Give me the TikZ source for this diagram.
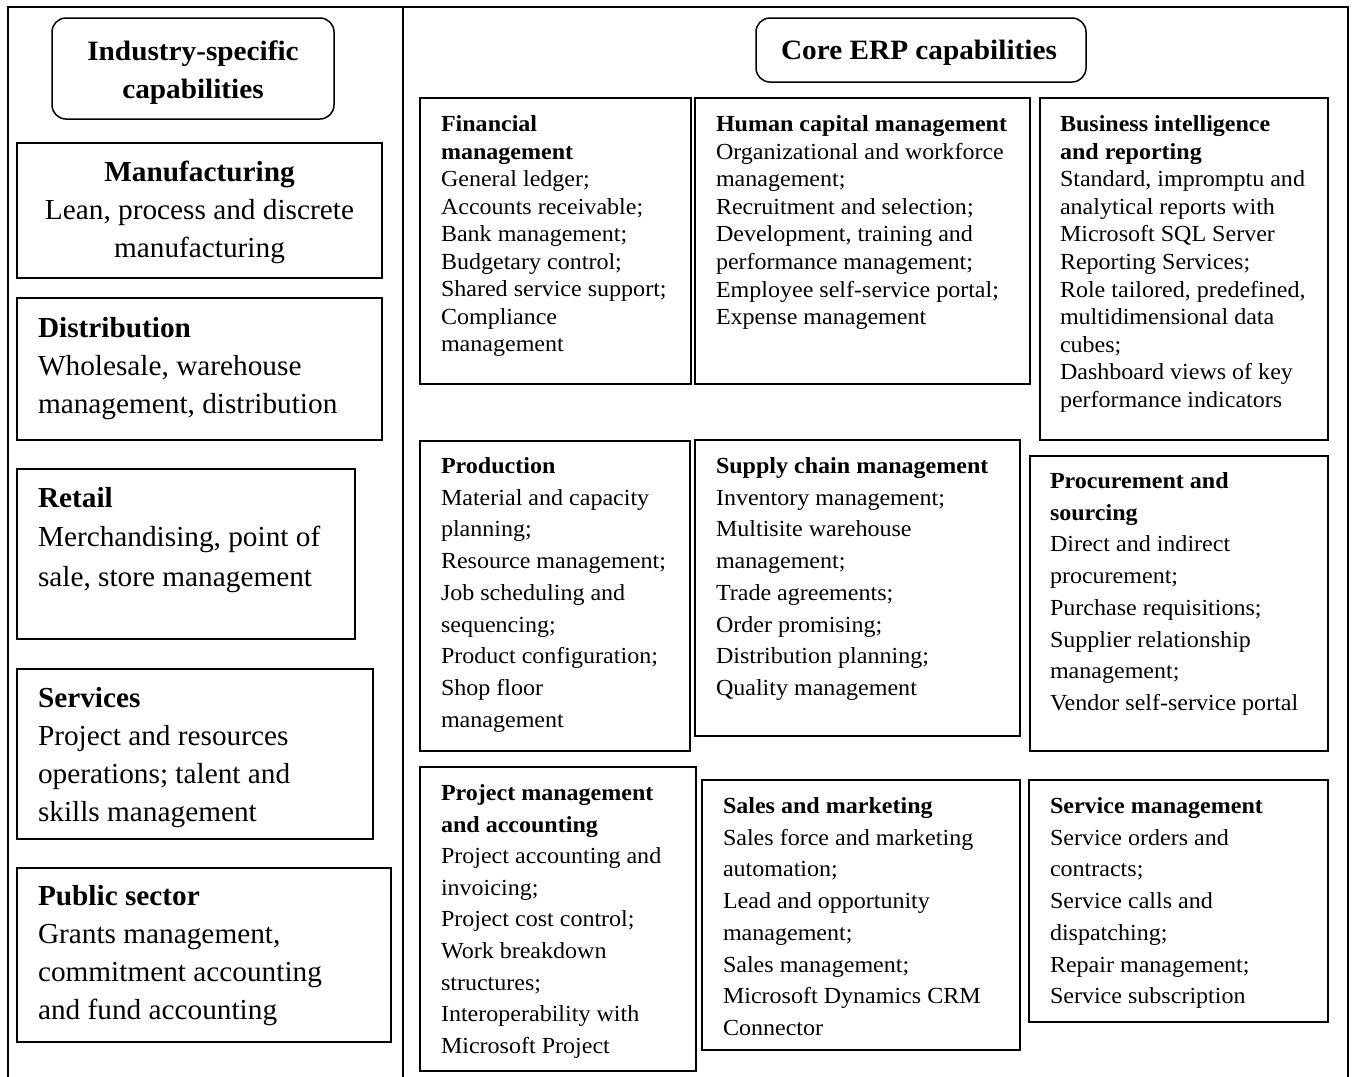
\documentclass[tikz,border=0pt]{standalone}
\usepackage{fontspec}
\setmainfont{Liberation Serif}[FakeStretch=1.01]
\newfontfamily\widefont{Liberation Serif}[FakeStretch=1.045]

% frame of a capability box: name, x1, y1, x2, y2
\newcommand\capframe[6][capbox]{%
  \pgfmathsetmacro\boxw{#5-#3}%
  \pgfmathsetmacro\boxh{#6-#4}%
  \node[#1, minimum width=\boxw pt, minimum height=\boxh pt]
    (#2) at ({(#3+#5)/2},{(#4+#6)/2}) {};}

% block of text lines: width, size, leading, lines
\newcommand\textlines[4]{%
  \parbox[t]{#1}{\fontsize{#2}{#3}\selectfont #4}}
% same, in the slightly wider face used in the core panel and titles
\newcommand\widelines[4]{%
  \parbox[t]{#1}{\widefont\fontsize{#2}{#3}\selectfont #4}}

\begin{document}
\begin{tikzpicture}[x=1pt, y=-1pt,
  frame/.style={line width=1.7pt},
  capbox/.style={draw, rectangle, line width=1.5pt, inner sep=0pt, outer sep=0pt},
  titlebox/.style={capbox, rounded corners=14pt},
  body/.style={inner sep=0pt, outer sep=0pt, anchor=base west},
  cbody/.style={inner sep=0pt, outer sep=0pt, anchor=base}]

\useasboundingbox[fill=white] (0,0) rectangle (1353,1077);

% outer frame and divider between the two panels
\coordinate (fbl) at (8,1077);
\coordinate (ftl) at (8,7);
\coordinate (ftr) at (1348,7);
\coordinate (fbr) at (1348,1077);
\coordinate (dtop) at (403,7);
\coordinate (dbot) at (403,1077);
\draw[frame] (fbl) -- (ftl) -- (ftr) -- (fbr);
\draw[frame] (dtop) -- (dbot);

% ---------- industry-specific panel ----------
\capframe[titlebox]{indtitle}{52}{18}{334}{119}
\node[cbody] (indtitle-t) at (193,60)
  {\widelines{280pt}{28}{38}{\centering\bfseries Industry-specific\\capabilities}};

\capframe{manuf}{17}{143}{382}{278}
\node[cbody] (manuf-t) at (199.5,181)
  {\textlines{360pt}{29}{38}{\centering\textbf{Manufacturing}\\Lean, process and discrete\\manufacturing}};

\capframe{distr}{17}{298}{382}{440}
\node[body] (distr-t) at (38,337)
  {\textlines{340pt}{29}{38}{\textbf{Distribution}\\Wholesale, warehouse\\management, distribution}};

\capframe{retail}{17}{469}{355}{639}
\node[body] (retail-t) at (38,507)
  {\textlines{310pt}{29}{39.5}{\textbf{Retail}\\Merchandising, point of\\sale, store management}};

\capframe{serv}{17}{669}{373}{839}
\node[body] (serv-t) at (38,707)
  {\textlines{330pt}{29}{38}{\textbf{Services}\\Project and resources\\operations; talent and\\skills management}};

\capframe{public}{17}{868}{391}{1042}
\node[body] (public-t) at (38,905)
  {\textlines{350pt}{29}{38.3}{\textbf{Public sector}\\Grants management,\\commitment accounting\\and fund accounting}};

% ---------- core ERP panel ----------
\capframe[titlebox]{coretitle}{756}{18}{1086}{82}
\node[cbody] (coretitle-t) at (919,59)
  {\widelines{320pt}{28}{38}{\centering\bfseries Core ERP capabilities}};

% first row
\capframe{fin}{420}{98}{691}{384}
\node[body] (fin-t) at (441,131.5)
  {\widelines{245pt}{23}{27.5}{\textbf{Financial}\\\textbf{management}\\General ledger;\\Accounts receivable;\\Bank management;\\Budgetary control;\\Shared service support;\\Compliance\\management}};

\capframe{hcm}{695}{98}{1030}{384}
\node[body] (hcm-t) at (716,131.5)
  {\widelines{320pt}{23}{27.6}{\textbf{Human capital management}\\Organizational and workforce\\management;\\Recruitment and selection;\\Development, training and\\performance management;\\Employee self-service portal;\\Expense management}};

\capframe{bi}{1040}{98}{1328}{440}
\node[body] (bi-t) at (1060,131.5)
  {\widelines{265pt}{23}{27.6}{\textbf{Business intelligence}\\\textbf{and reporting}\\Standard, impromptu and\\analytical reports with\\Microsoft SQL Server\\Reporting Services;\\Role tailored, predefined,\\multidimensional data\\cubes;\\Dashboard views of key\\performance indicators}};

% second row
\capframe{prod}{420}{441}{690}{751}
\node[body] (prod-t) at (441,473.5)
  {\widelines{245pt}{23}{31.7}{\textbf{Production}\\Material and capacity\\planning;\\Resource management;\\Job scheduling and\\sequencing;\\Product configuration;\\Shop floor\\management}};

\capframe{scm}{695}{440}{1020}{736}
\node[body] (scm-t) at (716,473.5)
  {\widelines{300pt}{23}{31.7}{\textbf{Supply chain management}\\Inventory management;\\Multisite warehouse\\management;\\Trade agreements;\\Order promising;\\Distribution planning;\\Quality management}};

\capframe{proc}{1030}{456}{1328}{751}
\node[body] (proc-t) at (1050,488.5)
  {\widelines{275pt}{23}{31.7}{\textbf{Procurement and}\\\textbf{sourcing}\\Direct and indirect\\procurement;\\Purchase requisitions;\\Supplier relationship\\management;\\Vendor self-service portal}};

% third row
\capframe{proj}{420}{767}{696}{1071}
\node[body] (proj-t) at (441,800.5)
  {\widelines{250pt}{23}{31.6}{\textbf{Project management}\\\textbf{and accounting}\\Project accounting and\\invoicing;\\Project cost control;\\Work breakdown\\structures;\\Interoperability with\\Microsoft Project}};

\capframe{sales}{702}{780}{1020}{1050}
\node[body] (sales-t) at (723,813.5)
  {\widelines{290pt}{23}{31.7}{\textbf{Sales and marketing}\\Sales force and marketing\\automation;\\Lead and opportunity\\management;\\Sales management;\\Microsoft Dynamics CRM\\Connector}};

\capframe{svc}{1029}{780}{1328}{1022}
\node[body] (svc-t) at (1050,813.5)
  {\widelines{270pt}{23}{31.7}{\textbf{Service management}\\Service orders and\\contracts;\\Service calls and\\dispatching;\\Repair management;\\Service subscription}};

\end{tikzpicture}
\end{document}
